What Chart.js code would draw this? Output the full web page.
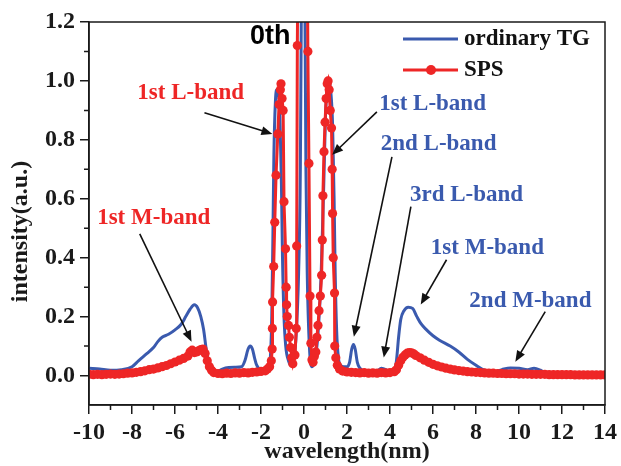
<!DOCTYPE html>
<html>
<head>
<meta charset="utf-8">
<script src="https://cdn.jsdelivr.net/npm/chart.js@4"></script>
<style>
  html, body { margin: 0; padding: 0; background: #fff; }
  #wrap { width: 621px; height: 466px; }
</style>
</head>
<body>
<div id="wrap"><canvas id="spec" width="621" height="466"></canvas></div>
<script>
// ordinary TG (blue) — wavelength (nm) / intensity
var tgX = [-10, -9.5, -9.0, -8.5, -8.0, -7.7, -7.3, -7.0, -6.8, -6.6, -6.3, -6.0, -5.7, -5.5, -5.3, -5.1, -4.95, -4.8, -4.67, -4.55,
  -4.44, -4.3, -4.1, -3.8, -3.5, -3.2, -2.9, -2.75, -2.6, -2.5, -2.4, -2.3, -2.2, -2.0, -1.8, -1.65, -1.55, -1.5, -1.45, -1.4,
  -1.33, -1.27, -1.2, -1.12, -1.05, -1.0, -0.93, -0.85, -0.72, -0.6, -0.5, -0.38, -0.25, -0.17, -0.12, -0.03, 0.04, 0.09, 0.15, 0.25,
  0.37, 0.5, 0.65, 0.8, 0.92, 1.0, 1.08, 1.15, 1.25, 1.33, 1.4, 1.45, 1.52, 1.6, 1.7, 1.85, 2.0, 2.12, 2.22, 2.3,
  2.38, 2.48, 2.6, 2.8, 3.1, 3.4, 3.6, 3.8, 4.0, 4.2, 4.3, 4.4, 4.5, 4.65, 4.85, 5.05, 5.25, 5.45, 5.7, 6.0,
  6.3, 6.8, 7.2, 7.6, 8.0, 8.4, 8.8, 9.2, 9.6, 10.0, 10.4, 10.7, 11.0, 11.3, 12.0, 13.0, 14.0];
var tgY = [0.025, 0.022, 0.018, 0.02, 0.03, 0.05, 0.075, 0.095, 0.115, 0.13, 0.14, 0.155, 0.175, 0.2, 0.225, 0.24, 0.23, 0.2, 0.156, 0.09,
  0.044, 0.02, 0.012, 0.022, 0.027, 0.028, 0.03, 0.05, 0.09, 0.1, 0.09, 0.06, 0.035, 0.02, 0.02, 0.03, 0.08, 0.2, 0.45, 0.75,
  0.93, 0.97, 0.96, 0.88, 0.65, 0.4, 0.2, 0.1, 0.05, 0.035, 0.05, 0.12, 0.35, 0.7, 1.3, 2.5, 1.3, 0.7, 0.35, 0.1,
  0.03, 0.05, 0.14, 0.35, 0.65, 0.88, 0.98, 1.0, 0.96, 0.85, 0.6, 0.35, 0.15, 0.06, 0.035, 0.03, 0.03, 0.045, 0.09, 0.105,
  0.09, 0.045, 0.025, 0.015, 0.01, 0.015, 0.025, 0.02, 0.008, 0.012, 0.05, 0.13, 0.19, 0.22, 0.232, 0.228, 0.2, 0.175, 0.155, 0.135,
  0.12, 0.1, 0.08, 0.055, 0.035, 0.018, 0.012, 0.02, 0.026, 0.025, 0.02, 0.025, 0.018, 0.006, 0.004, 0.004, 0.004];

// SPS (red, with markers)
var spsX = [-10, -9.8, -9.6, -9.4, -9.2, -9.0, -8.8, -8.6, -8.4, -8.2, -8.0, -7.8, -7.6, -7.4, -7.2, -7.0, -6.8, -6.6, -6.4, -6.2,
  -6.0, -5.8, -5.6, -5.4, -5.3, -5.2, -5.1, -5.0, -4.9, -4.8, -4.7, -4.6, -4.5, -4.4, -4.3, -4.2, -4.0, -3.8, -3.6, -3.4,
  -3.2, -3.0, -2.8, -2.6, -2.4, -2.2, -2.0, -1.8, -1.7, -1.6, -1.52, -1.48, -1.47, -1.46, -1.41, -1.36, -1.3, -1.22, -1.16, -1.1,
  -1.07, -1.02, -0.97, -0.93, -0.86, -0.83, -0.81, -0.78, -0.72, -0.68, -0.62, -0.57, -0.52, -0.42, -0.36, -0.34, -0.31, -0.18, 0.05, 0.18,
  0.23, 0.28, 0.32, 0.37, 0.42, 0.48, 0.55, 0.6, 0.65, 0.7, 0.76, 0.82, 0.85, 0.88, 0.93, 0.98, 1.03, 1.08, 1.12, 1.17,
  1.22, 1.28, 1.31, 1.33, 1.36, 1.42, 1.43, 1.48, 1.55, 1.65, 1.8, 2.0, 2.2, 2.4, 2.6, 2.8, 3.0, 3.2, 3.4, 3.6,
  3.8, 4.0, 4.2, 4.3, 4.4, 4.5, 4.6, 4.7, 4.8, 4.9, 5.0, 5.1, 5.2, 5.4, 5.6, 5.8, 6.0, 6.2, 6.4, 6.6,
  6.8, 7.0, 7.2, 7.4, 7.6, 7.8, 8.0, 8.2, 8.4, 8.6, 8.8, 9.0, 9.2, 9.4, 9.6, 9.8, 10.0, 10.2, 10.4, 10.6,
  10.8, 11.0, 11.2, 11.4, 11.6, 11.8, 12.0, 12.2, 12.4, 12.6, 12.8, 13.0, 13.2, 13.4, 13.6, 13.8, 14.0];
var spsY = [0.004, 0.003, 0.004, 0.003, 0.004, 0.005, 0.004, 0.005, 0.006, 0.008, 0.009, 0.011, 0.013, 0.016, 0.02, 0.022, 0.026, 0.03, 0.034, 0.04,
  0.046, 0.052, 0.058, 0.066, 0.08, 0.086, 0.078, 0.08, 0.084, 0.088, 0.09, 0.075, 0.05, 0.03, 0.018, 0.01, 0.007, 0.006, 0.008, 0.007,
  0.009, 0.008, 0.01, 0.009, 0.011, 0.012, 0.014, 0.016, 0.022, 0.03, 0.05, 0.09, 0.16, 0.25, 0.37, 0.52, 0.68, 0.82, 0.92, 0.97,
  0.99, 0.94, 0.9, 0.59, 0.43, 0.3, 0.24, 0.2, 0.17, 0.13, 0.095, 0.06, 0.04, 0.07, 0.16, 0.44, 1.12, 2.5, 2.5, 1.1,
  0.72, 0.27, 0.11, 0.054, 0.045, 0.065, 0.08, 0.13, 0.17, 0.22, 0.27, 0.34, 0.46, 0.61, 0.76, 0.86, 0.94, 0.99, 1.0, 0.97,
  0.9, 0.84, 0.7, 0.55, 0.4, 0.28, 0.1, 0.06, 0.035, 0.022, 0.015, 0.012, 0.011, 0.01, 0.009, 0.01, 0.008, 0.009, 0.008, 0.01,
  0.009, 0.01, 0.013, 0.02, 0.035, 0.05, 0.062, 0.07, 0.076, 0.078, 0.077, 0.074, 0.068, 0.06, 0.052, 0.045, 0.038, 0.033, 0.029, 0.025,
  0.022, 0.019, 0.017, 0.015, 0.013, 0.012, 0.011, 0.01, 0.009, 0.008, 0.008, 0.007, 0.007, 0.006, 0.006, 0.006, 0.005, 0.005, 0.005, 0.004,
  0.004, 0.004, 0.004, 0.003, 0.003, 0.003, 0.003, 0.003, 0.003, 0.002, 0.002, 0.002, 0.002, 0.002, 0.002, 0.002, 0.002];

var xTicks = [-10, -8, -6, -4, -2, 0, 2, 4, 6, 8, 10, 12, 14];
var xMinor = [-9, -7, -5, -3, -1, 1, 3, 5, 7, 9, 11, 13];
var yTicks = [0, 0.2, 0.4, 0.6, 0.8, 1.0, 1.2];
var yMinor = [0.1, 0.3, 0.5, 0.7, 0.9, 1.1];

var BLUE = '#3a5aae';
var RED = '#ee2626';
var INK = '#1a1a1a';
var SERIF = '"Liberation Serif", "Times New Roman", serif';

// labels + arrows, placed in data units
var notes = [
  { text: '0th', x: -1.57, y: 1.149, color: '#000', font: 'bold 27px "Liberation Sans", Arial, sans-serif' },
  { text: '1st L-band', x: -5.27, y: 0.959, color: RED, from: [-4.63, 0.892], to: [-1.47, 0.82] },
  { text: '1st M-band', x: -6.99, y: 0.536, color: RED, from: [-7.64, 0.481], to: [-5.23, 0.115] },
  { text: '1st L-band', x: 5.98, y: 0.922, color: BLUE, from: [3.39, 0.895], to: [1.31, 0.749] },
  { text: '2nd L-band', x: 6.26, y: 0.786, color: BLUE, from: [4.09, 0.742], to: [2.32, 0.132] },
  { text: '3rd L-band', x: 7.56, y: 0.614, color: BLUE, from: [4.97, 0.573], to: [3.71, 0.061] },
  { text: '1st M-band', x: 8.53, y: 0.434, color: BLUE, from: [6.63, 0.393], to: [5.43, 0.241] },
  { text: '2nd M-band', x: 10.53, y: 0.254, color: BLUE, from: [11.22, 0.217], to: [9.83, 0.047] }
];

function pairs(xs, ys) {
  return xs.map((v, i) => ({ x: v, y: ys[i] }));
}

function arrow(ctx, x1, y1, x2, y2) {
  var ang = Math.atan2(y2 - y1, x2 - x1);
  var len = 11, half = 4.5;
  ctx.beginPath();
  ctx.moveTo(x1, y1);
  ctx.lineTo(x2 - Math.cos(ang) * len * 0.8, y2 - Math.sin(ang) * len * 0.8);
  ctx.stroke();
  ctx.beginPath();
  ctx.moveTo(x2, y2);
  ctx.lineTo(x2 - Math.cos(ang) * len + Math.sin(ang) * half, y2 - Math.sin(ang) * len - Math.cos(ang) * half);
  ctx.lineTo(x2 - Math.cos(ang) * len - Math.sin(ang) * half, y2 - Math.sin(ang) * len + Math.cos(ang) * half);
  ctx.closePath();
  ctx.fill();
}

var decor = {
  id: 'decor',
  afterDraw(chart) {
    var ctx = chart.ctx, a = chart.chartArea;
    var xs = chart.scales.x, ys = chart.scales.y;
    ctx.save();

    // frame
    ctx.strokeStyle = INK;
    ctx.lineWidth = 1.5;
    ctx.strokeRect(a.left, a.top, a.right - a.left, a.bottom - a.top);

    // minor ticks
    ctx.beginPath();
    xMinor.forEach(v => {
      var px = xs.getPixelForValue(v);
      ctx.moveTo(px, a.bottom); ctx.lineTo(px, a.bottom + 5);
    });
    yMinor.forEach(v => {
      var py = ys.getPixelForValue(v);
      ctx.moveTo(a.left, py); ctx.lineTo(a.left - 5, py);
    });
    ctx.stroke();

    // y title sits a bit below the axis centre in the original
    ctx.save();
    ctx.translate(21, (a.top + a.bottom) / 2 + 18);
    ctx.rotate(-Math.PI / 2);
    ctx.font = 'bold 24px ' + SERIF;
    ctx.fillStyle = INK;
    ctx.textAlign = 'center';
    ctx.textBaseline = 'middle';
    ctx.fillText('intensity(a.u.)', 0, 0);
    ctx.restore();

    // annotations
    ctx.textAlign = 'center';
    ctx.textBaseline = 'middle';
    notes.forEach(n => {
      ctx.fillStyle = n.color;
      ctx.font = n.font || 'bold 23px ' + SERIF;
      ctx.fillText(n.text, xs.getPixelForValue(n.x), ys.getPixelForValue(n.y));
      if (n.from) {
        ctx.strokeStyle = '#111';
        ctx.fillStyle = '#111';
        ctx.lineWidth = 1.6;
        arrow(ctx, xs.getPixelForValue(n.from[0]), ys.getPixelForValue(n.from[1]),
          xs.getPixelForValue(n.to[0]), ys.getPixelForValue(n.to[1]));
      }
    });

    // legend
    var lx = a.right - 202, ly = a.top + 17;
    ctx.lineWidth = 3;
    ctx.strokeStyle = BLUE;
    ctx.beginPath(); ctx.moveTo(lx, ly); ctx.lineTo(lx + 55, ly); ctx.stroke();
    ctx.strokeStyle = RED;
    ctx.beginPath(); ctx.moveTo(lx, ly + 31); ctx.lineTo(lx + 55, ly + 31); ctx.stroke();
    ctx.fillStyle = RED;
    ctx.beginPath(); ctx.arc(lx + 28, ly + 31, 5, 0, Math.PI * 2); ctx.fill();
    ctx.fillStyle = '#111';
    ctx.font = 'bold 23px ' + SERIF;
    ctx.textAlign = 'left';
    ctx.fillText('ordinary TG', lx + 61, ly);
    ctx.fillText('SPS', lx + 61, ly + 31);

    ctx.restore();
  }
};

var tickFont = { family: SERIF, size: 24, weight: 'bold' };

new Chart(document.getElementById('spec'), {
  type: 'line',
  data: {
    datasets: [
      {
        label: 'ordinary TG',
        data: pairs(tgX, tgY),
        borderColor: BLUE,
        borderWidth: 3,
        pointRadius: 0,
        cubicInterpolationMode: 'monotone',
        order: 1
      },
      {
        label: 'SPS',
        data: pairs(spsX, spsY),
        borderColor: RED,
        backgroundColor: RED,
        borderWidth: 3,
        pointRadius: 4.6,
        pointBorderWidth: 0,
        order: 0
      }
    ]
  },
  options: {
    responsive: false,
    animation: false,
    devicePixelRatio: 1,
    layout: { padding: { top: 22, right: 14, left: 0, bottom: 0 } },
    plugins: { legend: { display: false }, tooltip: { enabled: false } },
    scales: {
      x: {
        type: 'linear',
        min: -10,
        max: 14,
        afterBuildTicks: s => { s.ticks = xTicks.map(v => ({ value: v })); },
        afterFit: s => { s.height = 61; },
        ticks: { font: tickFont, color: INK, padding: 4, maxRotation: 0, callback: v => String(v) },
        grid: { drawOnChartArea: false, tickLength: 9, color: INK, lineWidth: 1.5 },
        border: { color: INK, width: 1.5 },
        title: { display: true, text: 'wavelength(nm)', font: tickFont, color: INK, padding: 0 }
      },
      y: {
        min: -0.1,
        max: 1.2,
        afterBuildTicks: s => { s.ticks = yTicks.map(v => ({ value: v })); },
        afterFit: s => { s.width = 89; },
        ticks: { font: tickFont, color: INK, padding: 5, callback: v => v.toFixed(1) },
        grid: { drawOnChartArea: false, tickLength: 9, color: INK, lineWidth: 1.5 },
        border: { color: INK, width: 1.5 },
        title: { display: false }
      }
    }
  },
  plugins: [decor]
});
</script>
</body>
</html>
